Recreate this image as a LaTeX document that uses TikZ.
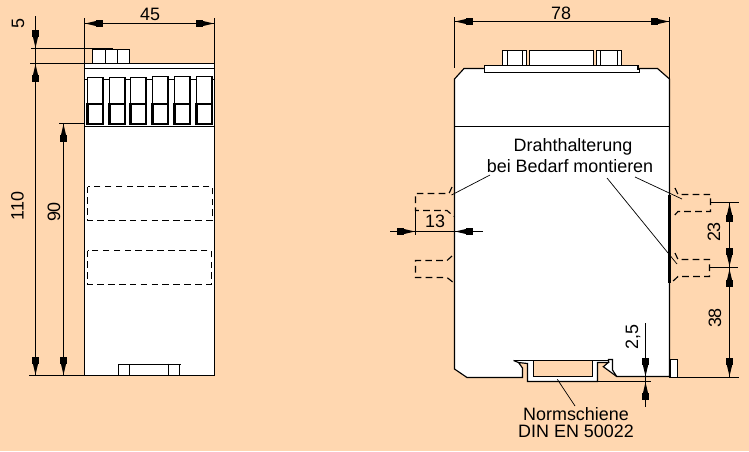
\documentclass[tikz,border=0pt]{standalone}
\usepackage{fontspec}
\setmainfont{Liberation Sans}
\usepackage{tikz}
\usetikzlibrary{arrows.meta}
\definecolor{paper}{RGB}{255,215,176}
\tikzset{
	part/.style={draw=black, fill=white, line width=0.65pt},
	thickpart/.style={draw=black, fill=white, line width=1.2pt},
	dimline/.style={draw=black, line width=0.65pt},
	thinline/.style={draw=black, line width=0.4pt},
	hidden/.style={draw=black, line width=0.65pt, dash pattern=on 3.8pt off 2.4pt},
	dimarrow/.style={-{Rectangle[length=4pt, width=3.8pt, sep=0pt]Triangle[length=6.5pt, width=2.8pt, sep=0pt]}, draw=black, line width=0.65pt},
	dimtext/.style={font=\fontsize{10.2}{12}\selectfont, inner sep=0pt, text=black},
}
\begin{document}
\begin{tikzpicture}[x=0.02cm, y=-0.02cm]
	\fill[paper] (0, 0) rectangle (749, 451);
	\useasboundingbox (0, 0) rectangle (749, 451);

	%%%%% LEFT VIEW %%%%%
	\draw[part] (84.5, 63.5) rectangle (214.5, 375.5);
	\draw[part] (92.5, 49.5) rectangle (129.5, 63.5);
	\draw[part] (105.5, 49.5) -- (105.5, 63.5);
	\draw[part] (117.5, 49.5) -- (117.5, 63.5);
	\draw[dimline] (84.5, 68.5) -- (214.5, 68.5);
	\draw[dimline] (84.5, 79.5) -- (214.5, 79.5);
	\draw[dimline] (84.5, 126.5) -- (214.5, 126.5);

	\foreach \tx/\ty in {87.5/77.5, 109.5/77.5, 130.5/77.5, 152.5/76.5, 174.5/76.5, 196.5/76.5}{
		\draw[part] (\tx, \ty) rectangle (\tx+15.5, 103.5);
		\draw[thickpart] (\tx, 104) rectangle (\tx+15.5, 124);
	}

	\draw[hidden] (87.5, 186.5) rectangle (212.5, 220.5);
	\draw[hidden] (87.5, 250.5) rectangle (211.5, 284.5);

	\draw[dimline] (118.5, 375.5) -- (118.5, 364.5) -- (180.5, 364.5);
	\draw[dimline] (129.5, 364.5) -- (129.5, 375.5);
	\draw[dimline] (168.5, 363.5) -- (168.5, 375.5);
	\draw[dimline] (179.5, 364.5) -- (179.5, 375.5);

	% dimensions
	\draw[dimline] (84.5, 18) -- (84.5, 63.5);
	\draw[dimline] (214.5, 18) -- (214.5, 63.5);
	\draw[dimline] (84.5, 23.5) -- (214.5, 23.5);
	\draw[dimarrow] (103, 23.5) -- (85, 23.5);
	\draw[dimarrow] (196, 23.5) -- (214, 23.5);
	\node[dimtext] (widthleft) at (150, 14) {45};

	\draw[dimline] (31, 48.5) -- (113, 48.5);
	\draw[dimline] (30, 63.5) -- (84.5, 63.5);
	\draw[dimline] (29, 375.5) -- (84.5, 375.5);
	\draw[dimline] (35.5, 16) -- (35.5, 375.5);
	\draw[dimarrow] (35.5, 30) -- (35.5, 48);
	\draw[dimarrow] (35.5, 82) -- (35.5, 64);
	\draw[dimarrow] (35.5, 356) -- (35.5, 375);
	\node[dimtext, rotate=90] (capleft) at (18, 24) {5};
	\node[dimtext, rotate=90] (heightleft) at (17.5, 206) {110};

	\draw[dimline] (59, 123.5) -- (85, 123.5);
	\draw[dimline] (63.5, 123.5) -- (63.5, 375.5);
	\draw[dimarrow] (63.5, 142) -- (63.5, 124);
	\draw[dimarrow] (63.5, 356) -- (63.5, 375);
	\node[dimtext, rotate=90] (frontleft) at (54, 212) {90};

	%%%%% RIGHT VIEW %%%%%
	\draw[part] (464, 68.5) -- (657.5, 68.5) -- (669.5, 79) -- (669.5, 376.5) -- (616.7, 376.5) -- (603.3, 366.7) -- (608.3, 362.5)
		-- (597.5, 362.5) -- (597.5, 381.5) -- (527.5, 381.5) -- (527.5, 363.5) -- (518.5, 362.5) -- (522.5, 368) -- (522.5, 377.5)
		-- (467, 377.5) -- (454.5, 369) -- (454.5, 79) -- cycle;
	\draw[dimline] (454.5, 126.5) -- (669.5, 126.5);
	\draw[part] (484.5, 65.5) -- (638, 65.5) -- (638, 69) -- (639.5, 69) -- (639.5, 72.5) -- (484.5, 72.5) -- cycle;
	\draw[part] (502.5, 50.5) rectangle (526.5, 65.5);
	\draw[dimline] (507.5, 50.5) -- (507.5, 65.5);
	\draw[dimline] (522.5, 50.5) -- (522.5, 65.5);
	\draw[part] (529.5, 50.5) rectangle (593.5, 65.5);
	\draw[part] (596.5, 50.5) rectangle (621.5, 65.5);
	\draw[dimline] (600.5, 50.5) -- (600.5, 65.5);
	\draw[dimline] (617.5, 50.5) -- (617.5, 65.5);

	% rail
	\draw[dimline, fill=paper] (533.5, 360.5) -- (533.5, 376.5) -- (592.5, 376.5) -- (592.5, 360.5) -- cycle;
	\draw[dimline] (513.5, 360.5) -- (608.5, 360.5);
	\draw[dimline] (513.5, 360.5) -- (518.5, 362.5);
	\draw[dimline] (608.5, 362.5) -- (608.5, 359.5) -- (612.5, 359.5) -- (612.5, 370) -- (616.7, 376.5);
	\draw[part] (670, 359.5) rectangle (677.5, 377.5);

	% clips
	\draw[hidden] (452, 187) -- (449, 193.5) -- (415.5, 193.5) -- (415.5, 210.5) -- (447, 210.5) -- (454, 216.5);
	\draw[hidden] (452, 256) -- (447, 260.5) -- (415.5, 260.5) -- (415.5, 277.5) -- (447, 277.5) -- (454, 283);
	\draw[hidden] (675, 188) -- (678, 194.5) -- (710.5, 194.5) -- (710.5, 211.5) -- (678, 211.5) -- (672, 218);
	\draw[hidden] (675, 253) -- (678, 259.5) -- (709.5, 259.5) -- (709.5, 276.5) -- (678, 276.5) -- (672, 282);
	\draw[thickpart] (669.5, 195) -- (669.5, 283);

	% leaders
	\draw[thinline] (490, 175) -- (451.5, 195);
	\draw[thinline] (635, 177) -- (682, 199);
	\draw[thinline] (607, 178) -- (677, 264);
	\draw[thinline] (557.3, 379.3) -- (575, 406);

	% dimensions
	\draw[dimline] (454.5, 17) -- (454.5, 68);
	\draw[dimline] (669.5, 17) -- (669.5, 79);
	\draw[dimline] (454.5, 21.5) -- (669.5, 21.5);
	\draw[dimarrow] (474, 21.5) -- (455, 21.5);
	\draw[dimarrow] (651, 21.5) -- (669, 21.5);
	\node[dimtext] (widthright) at (561, 13) {78};

	\draw[dimline] (415.5, 210.5) -- (415.5, 235);
	\draw[dimline] (390, 231.5) -- (483, 231.5);
	\draw[dimarrow] (397, 231.5) -- (415, 231.5);
	\draw[dimarrow] (475, 231.5) -- (455, 231.5);
	\node[dimtext] (clipwidth) at (435, 221) {13};

	\draw[dimline] (710, 202.5) -- (739, 202.5);
	\draw[dimline] (710, 267.5) -- (738, 267.5);
	\draw[dimline] (677.5, 377.5) -- (739, 377.5);
	\draw[dimline] (729.5, 202.5) -- (729.5, 377.5);
	\draw[dimarrow] (729.5, 222) -- (729.5, 203.5);
	\draw[dimarrow] (729.5, 248) -- (729.5, 266.5);
	\draw[dimarrow] (729.5, 287) -- (729.5, 269);
	\draw[dimarrow] (729.5, 358) -- (729.5, 376.5);
	\node[dimtext, rotate=90] (clipgap) at (714, 232) {23};
	\node[dimtext, rotate=90] (clipfoot) at (715, 318) {38};

	\draw[dimline] (597.5, 381.5) -- (651, 381.5);
	\draw[dimline] (645.5, 323) -- (645.5, 407);
	\draw[dimarrow] (645.5, 358) -- (645.5, 376.5);
	\draw[dimarrow] (645.5, 400) -- (645.5, 382);
	\node[dimtext, rotate=90] (railgap) at (633, 337) {2,5};

	% labels
	\node[dimtext] (holder) at (573, 147) {Drahthalterung};
	\node[dimtext] (mount) at (570, 166) {bei Bedarf montieren};
	\node[dimtext] (rail) at (576, 414) {Normschiene};
	\node[dimtext] (railnorm) at (576, 431) {DIN EN 50022};
\end{tikzpicture}
\end{document}
